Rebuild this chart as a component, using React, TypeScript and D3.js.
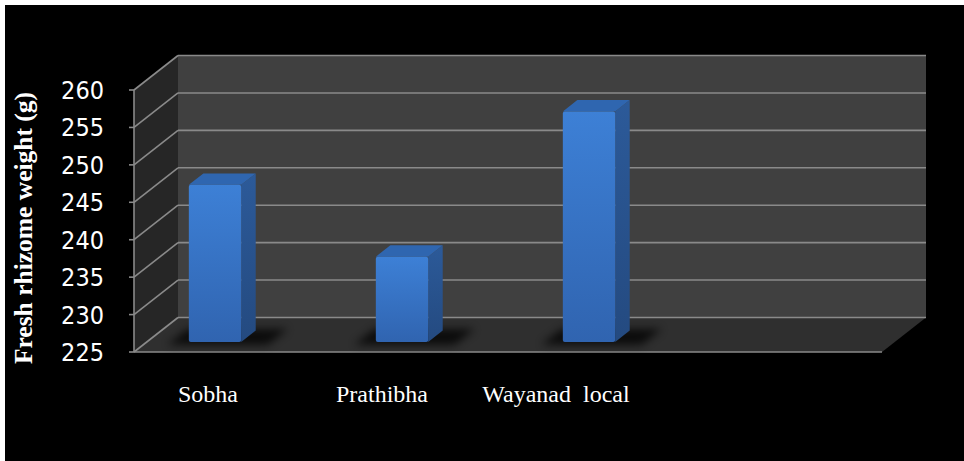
import React from "react";
import * as d3 from "d3";

// Fresh rhizome weight by variety (g)
const categories: string[] = ["Sobha", "Prathibha", "Wayanad  local", ""];
const weights: (number | null)[] = [246.0, 236.4, 255.8, null];
const yTicks: number[] = [225, 230, 235, 240, 245, 250, 255, 260];
const yTitle = "Fresh rhizome weight (g)";

const W = 964;
const H = 461;

// oblique depth vector for the 3-D box
const DX = 44;
const DY = -34.5;

export default function App() {
  const y = d3.scaleLinear().domain([225, 260]).range([352, 90]);
  const x = d3.scaleBand<string>().domain(categories).range([134, 882]);
  const labelX = d3.scaleBand<string>().domain(categories).range([121, 817]);
  const bw = x.bandwidth();

  const [x0, x1] = x.range();
  const yBase = y(225);
  const yTop = y(260);

  const P = (px: number, py: number, f: number) => [px + DX * f, py + DY * f];
  const poly = (pts: number[][]) => pts.map((p) => p.join(",")).join(" ");

  const f0 = 0.29;
  const f1 = 0.62;

  return (
    <svg
      width={W}
      height={H}
      style={{ position: "absolute", left: 0, top: 0, display: "block" }}
    >
      <defs>
        <linearGradient id="front" x1="0" y1="0" x2="0" y2="1">
          <stop offset="0" stopColor="#3d80d6" />
          <stop offset="1" stopColor="#3064b0" />
        </linearGradient>
        <linearGradient id="side" x1="0" y1="0" x2="0" y2="1">
          <stop offset="0" stopColor="#2c5a99" />
          <stop offset="1" stopColor="#244a80" />
        </linearGradient>
        <filter id="shadow" x="-50%" y="-50%" width="200%" height="200%">
          <feGaussianBlur stdDeviation="4" />
        </filter>
      </defs>

      <rect x={0} y={0} width={W} height={H} fill="#ffffff" />
      <rect x={5} y={5} width={W - 5} height={H - 5} fill="#000000" />

      {/* back wall */}
      <polygon
        points={poly([P(x0, yTop, 1), P(x1, yTop, 1), P(x1, yBase, 1), P(x0, yBase, 1)])}
        fill="#404040"
      />
      {/* side wall */}
      <polygon
        points={poly([P(x0, yTop, 0), P(x0, yTop, 1), P(x0, yBase, 1), P(x0, yBase, 0)])}
        fill="#262626"
      />
      {/* floor */}
      <polygon
        points={poly([P(x0, yBase, 0), P(x0, yBase, 1), P(x1, yBase, 1), P(x1, yBase, 0)])}
        fill="#2f2f2f"
      />

      {/* gridlines on back and side walls */}
      {yTicks.map((t) => {
        const a = P(x0, y(t), 0);
        const b = P(x0, y(t), 1);
        const c = P(x1, y(t), 1);
        return (
          <g key={t} stroke="#8a8a8a" strokeWidth={1.6} fill="none">
            <line x1={a[0]} y1={a[1]} x2={b[0]} y2={b[1]} />
            <line x1={b[0]} y1={b[1]} x2={c[0]} y2={c[1]} />
            <line x1={x0 - 5} y1={y(t)} x2={x0} y2={y(t)} />
          </g>
        );
      })}

      {/* front axis and floor edge */}
      <line x1={x0} y1={yTop} x2={x0} y2={yBase} stroke="#8a8a8a" strokeWidth={1.6} />
      <line x1={x0} y1={yBase} x2={x1} y2={yBase} stroke="#8a8a8a" strokeWidth={1.6} />

      {/* bars */}
      {categories.map((c, i) => {
        const v = weights[i];
        if (v == null) return null;
        const left = (x(c) as number) + bw * 0.225;
        const right = left + bw * 0.28;
        const fl = P(left, y(v), f0);
        const fr = P(right, y(v), f0);
        const fb = P(right, yBase, f0);
        const flb = P(left, yBase, f0);
        const bl = P(left, y(v), f1);
        const br = P(right, y(v), f1);
        const bb = P(right, yBase, f1);
        const sh0 = P(left - 18, yBase, f0 - 0.08);
        const sh1 = P(right + 30, yBase, f0 - 0.08);
        const sh2 = P(right + 30, yBase, f1 + 0.05);
        const sh3 = P(left - 18, yBase, f1 + 0.05);
        return (
          <g key={c}>
            <polygon
              points={poly([sh0, sh1, sh2, sh3])}
              fill="#000"
              opacity={0.75}
              filter="url(#shadow)"
            />
            <polygon points={poly([fr, br, bb, fb])} fill="url(#side)" />
            <polygon points={poly([fl, bl, br, fr])} fill="#2f66b0" />
            <rect
              x={fl[0]}
              y={fl[1]}
              width={fr[0] - fl[0]}
              height={flb[1] - fl[1]}
              rx={2}
              fill="url(#front)"
            />
          </g>
        );
      })}

      {/* y tick labels */}
      {yTicks.map((t) => (
        <text
          key={t}
          x={104}
          y={y(t)}
          dy="0.36em"
          textAnchor="end"
          fill="#ffffff"
          fontFamily="'Liberation Sans Narrow', 'DejaVu Sans Condensed', sans-serif"
          fontSize={25}
        >
          {t}
        </text>
      ))}

      {/* category labels */}
      {categories.map((c) =>
        c ? (
          <text
            key={c}
            x={(labelX(c) as number) + labelX.bandwidth() / 2}
            y={402}
            textAnchor="middle"
            fill="#ffffff"
            fontFamily="'Liberation Serif', 'Times New Roman', serif"
            fontSize={24}
            style={{ whiteSpace: "pre" }}
          >
            {c}
          </text>
        ) : null
      )}

      {/* y axis title */}
      <text
        transform="translate(32,228) rotate(-90)"
        textAnchor="middle"
        fill="#ffffff"
        fontFamily="'Liberation Serif', 'Times New Roman', serif"
        fontWeight="bold"
        fontSize={25.5}
      >
        {yTitle}
      </text>
    </svg>
  );
}
